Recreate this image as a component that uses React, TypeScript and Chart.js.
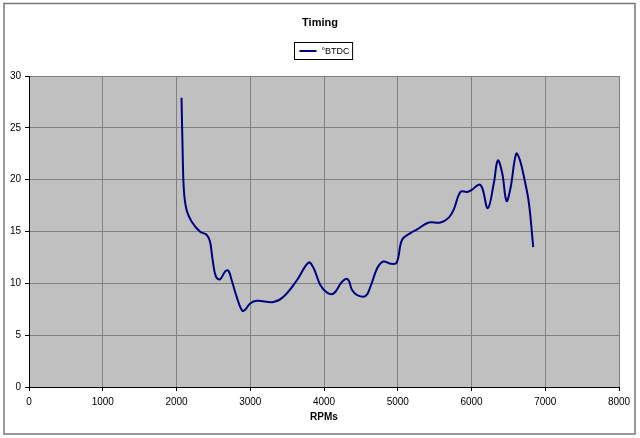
import React, { useEffect, useRef } from "react";
import { Chart, registerables } from "chart.js";

Chart.register(...registerables);

const chartTitle = "Timing";
const seriesLabel = "°BTDC";
const xAxisTitle = "RPMs";

const rpm = [
  2068, 2082, 2100, 2136, 2204, 2317, 2408, 2454, 2490, 2535, 2590, 2658, 2703,
  2748, 2816, 2890, 2930, 2998, 3088, 3315, 3451, 3633, 3791, 3860, 3950, 4041,
  4132, 4245, 4322, 4381, 4449, 4562, 4630, 4721, 4803, 4902, 4984, 5059, 5172,
  5262, 5421, 5579, 5692, 5760, 5851, 5941, 6009, 6100, 6145, 6222, 6303, 6357,
  6416, 6475, 6529, 6606, 6656, 6719, 6778, 6837,
];

const btdc = [
  27.9, 23.2, 19.0, 17.1, 15.97, 15.0, 14.68, 14.03, 12.26, 10.65, 10.39, 11.13,
  11.23, 10.3, 8.7, 7.35, 7.45, 8.06, 8.32, 8.2, 8.7, 10.3, 12.0, 11.45, 9.84,
  9.1, 9.03, 10.16, 10.39, 9.35, 8.87, 8.77, 9.68, 11.45, 12.1, 11.9, 11.99,
  14.2, 14.85, 15.2, 15.86, 15.86, 16.34, 17.13, 18.82, 18.82, 19.04, 19.52,
  19.2, 17.25, 19.68, 21.85, 20.64, 17.95, 19.2, 22.5, 21.9, 20.0, 17.77, 13.5,
];

const xTicks = [0, 1000, 2000, 3000, 4000, 5000, 6000, 7000, 8000];
const yTicks = [0, 5, 10, 15, 20, 25, 30];

const FONT = "'Liberation Sans', Arial, sans-serif";
const LINE_COLOR = "#000080";

const excelFrame = {
  id: "excelFrame",
  beforeDraw(chart: any) {
    const { ctx, chartArea, width, height } = chart;
    ctx.save();
    ctx.fillStyle = "#ffffff";
    ctx.fillRect(0, 0, width, height);
    ctx.fillStyle = "#c0c0c0";
    ctx.fillRect(
      chartArea.left,
      chartArea.top,
      chartArea.right - chartArea.left,
      chartArea.bottom - chartArea.top
    );
    ctx.restore();
  },
  afterDraw(chart: any) {
    const { ctx, width, height } = chart;
    ctx.save();
    // outer border
    ctx.strokeStyle = "#777777";
    ctx.lineWidth = 1.5;
    ctx.strokeRect(4, 3.5, width - 9, height - 7.5);

    // title
    ctx.fillStyle = "#000000";
    ctx.font = `bold 11px ${FONT}`;
    ctx.textAlign = "center";
    ctx.textBaseline = "middle";
    ctx.fillText(chartTitle, 320, 23);

    // legend
    const label = chart.data.datasets[0].label;
    ctx.font = `9px ${FONT}`;
    const tw = ctx.measureText(label).width;
    const bx = 294.5;
    const by = 42.5;
    const bw = 27 + tw + 3;
    const bh = 17;
    ctx.fillStyle = "#ffffff";
    ctx.fillRect(bx, by, bw, bh);
    ctx.strokeStyle = "#000000";
    ctx.lineWidth = 1;
    ctx.strokeRect(bx, by, bw, bh);
    ctx.strokeStyle = LINE_COLOR;
    ctx.lineWidth = 2;
    ctx.beginPath();
    ctx.moveTo(bx + 5, by + 8.5);
    ctx.lineTo(bx + 22, by + 8.5);
    ctx.stroke();
    ctx.fillStyle = "#000000";
    ctx.textAlign = "left";
    ctx.textBaseline = "middle";
    ctx.fillText(label, bx + 27, by + 9);
    ctx.restore();
  },
};

export default function App() {
  const canvasRef = useRef<HTMLCanvasElement | null>(null);

  useEffect(() => {
    const canvas = canvasRef.current;
    if (!canvas) return;
    const points = rpm.map((x, i) => ({ x, y: btdc[i] }));
    const chart = new Chart(canvas, {
      type: "line",
      data: {
        datasets: [
          {
            label: seriesLabel,
            data: points,
            borderColor: LINE_COLOR,
            backgroundColor: LINE_COLOR,
            borderWidth: 2,
            pointRadius: 0,
            tension: 0.4,
            fill: false,
          },
        ],
      },
      options: {
        animation: false,
        responsive: false,
        devicePixelRatio: 1,
        layout: { padding: { top: 76, left: 0, right: 21, bottom: 0 } },
        plugins: {
          legend: { display: false },
          title: { display: false },
          tooltip: { enabled: false },
        },
        scales: {
          x: {
            type: "linear",
            min: 0,
            max: 8000,
            afterFit: (s: any) => {
              s.height = 51;
            },
            afterBuildTicks: (s: any) => {
              s.ticks = xTicks.map((v) => ({ value: v }));
            },
            ticks: {
              color: "#000000",
              font: { family: FONT, size: 10 },
              padding: 5,
              maxRotation: 0,
              callback: (v: any) => String(v),
            },
            grid: {
              color: "#808080",
              lineWidth: 1,
              tickColor: "#000000",
              tickLength: 4,
              drawTicks: true,
            },
            border: { color: "#000000", width: 1 },
            title: {
              display: true,
              text: xAxisTitle,
              color: "#000000",
              font: { family: FONT, size: 10, weight: "bold" },
              padding: { top: 0, bottom: 15 },
            },
          },
          y: {
            type: "linear",
            min: 0,
            max: 30,
            afterFit: (s: any) => {
              s.width = 29;
            },
            afterBuildTicks: (s: any) => {
              s.ticks = yTicks.map((v) => ({ value: v }));
            },
            ticks: {
              color: "#000000",
              font: { family: FONT, size: 10 },
              padding: 4,
              callback: (v: any) => String(v),
            },
            grid: {
              color: "#808080",
              lineWidth: 1,
              tickColor: "#000000",
              tickLength: 4,
              drawTicks: true,
            },
            border: { color: "#000000", width: 1 },
          },
        },
      },
      plugins: [excelFrame],
    });
    return () => chart.destroy();
  }, []);

  return (
    <div style={{ position: "fixed", left: 0, top: 0, width: 640, height: 438 }}>
      <canvas ref={canvasRef} width={640} height={438} />
    </div>
  );
}
